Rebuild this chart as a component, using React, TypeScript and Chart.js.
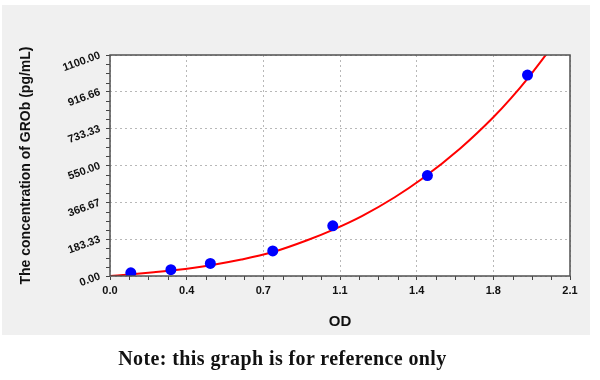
import React, { useEffect, useRef } from "react";
import { Chart, registerables } from "chart.js";

Chart.register(...registerables);

// Standard points (OD, concentration pg/mL)
const standardOD = [0.095, 0.278, 0.458, 0.743, 1.017, 1.449, 1.906];
const standardConc = [15.63, 31.25, 62.5, 125, 250, 500, 1000];

// Fitted curve
const curveOD = [0, 0.1, 0.2, 0.3, 0.46, 0.6, 0.74, 0.9, 1.02, 1.15, 1.3, 1.42, 1.6, 1.75, 1.83, 1.91, 2.0];
const curveConc = [0, 9, 19, 30, 54, 82, 118, 178, 231, 298, 392, 480, 636, 790, 884, 988, 1115];

// Axis ticks
const xTickValues = [0, 0.35, 0.7, 1.05, 1.4, 1.75, 2.1];
const xTickLabels = ["0.0", "0.4", "0.7", "1.1", "1.4", "1.8", "2.1"];
const yTickValues = [0, 183.33, 366.67, 550, 733.33, 916.66, 1100];
const yTickLabels = ["0.00", "183.33", "366.67", "550.00", "733.33", "916.66", "1100.00"];

const xTitle = "OD";
const yTitle = "The concentration of GROb (pg/mL)";
const noteText = "Note: this graph is for reference only";

const panelPlugin = {
  id: "panel",
  beforeDraw(chart: any) {
    const ctx = chart.ctx;
    ctx.save();
    ctx.fillStyle = "#f0f0f0";
    ctx.fillRect(2, 5, 588, 330);
    const a = chart.chartArea;
    ctx.fillStyle = "#ffffff";
    ctx.fillRect(a.left, a.top, a.right - a.left, a.bottom - a.top);
    ctx.restore();
  },
  afterDraw(chart: any) {
    const ctx = chart.ctx;
    const a = chart.chartArea;
    const xs = chart.scales.x;
    const ys = chart.scales.y;
    ctx.save();
    ctx.strokeStyle = "#444444";
    ctx.lineWidth = 1;
    ctx.beginPath();
    for (let i = 0; i < xTickValues.length - 1; i++) {
      const p0 = xs.getPixelForValue(xTickValues[i]);
      const p1 = xs.getPixelForValue(xTickValues[i + 1]);
      for (let k = 1; k < 4; k++) {
        const p = Math.round(p0 + ((p1 - p0) * k) / 4) + 0.5;
        ctx.moveTo(p, a.bottom);
        ctx.lineTo(p, a.bottom + 4);
      }
    }
    for (let i = 0; i < yTickValues.length - 1; i++) {
      const p0 = ys.getPixelForValue(yTickValues[i]);
      const p1 = ys.getPixelForValue(yTickValues[i + 1]);
      for (let k = 1; k < 4; k++) {
        const p = Math.round(p0 + ((p1 - p0) * k) / 4) + 0.5;
        ctx.moveTo(a.left, p);
        ctx.lineTo(a.left - 4, p);
      }
    }
    ctx.stroke();
    ctx.strokeStyle = "#505050";
    ctx.lineWidth = 1.5;
    ctx.strokeRect(a.left, a.top, a.right - a.left, a.bottom - a.top);
    ctx.restore();
  },
};

export default function App() {
  const ref = useRef<HTMLCanvasElement | null>(null);

  useEffect(() => {
    if (!ref.current) return;
    const chart = new Chart(ref.current, {
      type: "scatter",
      data: {
        datasets: [
          {
            label: "Standards",
            data: standardOD.map((x, i) => ({ x, y: standardConc[i] })),
            backgroundColor: "#0000ff",
            borderColor: "#0000ff",
            pointRadius: 5.5,
            pointHoverRadius: 5.5,
            borderWidth: 0,
            showLine: false,
          },
          {
            label: "Curve",
            data: curveOD.map((x, i) => ({ x, y: curveConc[i] })),
            borderColor: "#ff0000",
            backgroundColor: "#ff0000",
            borderWidth: 2,
            pointRadius: 0,
            showLine: true,
            cubicInterpolationMode: "monotone",
          } as any,
        ],
      },
      options: {
        animation: false,
        responsive: false,
        events: [],
        layout: { padding: { left: 0, right: 30, top: 55, bottom: 44 } },
        plugins: { legend: { display: false }, tooltip: { enabled: false } },
        scales: {
          x: {
            type: "linear",
            min: 0,
            max: 2.1,
            afterBuildTicks: (s: any) => {
              s.ticks = xTickValues.map((v) => ({ value: v }));
            },
            afterFit: (s: any) => {
              s.height = 60;
            },
            ticks: {
              autoSkip: false,
              maxRotation: 0,
              minRotation: 0,
              padding: 4,
              color: "#111111",
              font: { family: "Liberation Sans, Arial, sans-serif", size: 11, weight: "bold" },
              callback: (_v: any, i: number) => xTickLabels[i],
            },
            grid: {
              color: "#b8b8b8",
              lineWidth: 1,
              drawTicks: true,
              tickLength: 4,
              tickColor: "#444444",
              tickBorderDash: [],
            },
            border: { display: false, dash: [2, 3] },
            title: {
              display: true,
              text: xTitle,
              color: "#111111",
              font: { family: "Liberation Sans, Arial, sans-serif", size: 15, weight: "bold" },
              padding: { top: 0, bottom: 5 },
            },
          },
          y: {
            type: "linear",
            min: 0,
            max: 1100,
            afterBuildTicks: (s: any) => {
              s.ticks = yTickValues.map((v) => ({ value: v }));
            },
            afterFit: (s: any) => {
              s.width = 110;
            },
            ticks: {
              autoSkip: false,
              minRotation: 20,
              maxRotation: 20,
              padding: 6,
              color: "#111111",
              font: { family: "Liberation Sans, Arial, sans-serif", size: 11, weight: "bold" },
              callback: (_v: any, i: number) => yTickLabels[i],
            },
            grid: {
              color: "#b8b8b8",
              lineWidth: 1,
              drawTicks: true,
              tickLength: 4,
              tickColor: "#444444",
              tickBorderDash: [],
            },
            border: { display: false, dash: [2, 3] },
            title: {
              display: true,
              text: yTitle,
              color: "#111111",
              font: { family: "Liberation Sans, Arial, sans-serif", size: 14, weight: "bold" },
              padding: { top: 18, bottom: 0 },
            },
          },
        },
      },
      plugins: [panelPlugin],
    });
    return () => chart.destroy();
  }, []);

  return (
    <div style={{ position: "absolute", left: 0, top: 0, width: 600, height: 380, background: "#ffffff" }}>
      <canvas ref={ref} width={600} height={380} style={{ position: "absolute", left: 0, top: 0, width: 600, height: 380 }} />
      <div
        style={{
          position: "absolute",
          left: 0,
          top: 348,
          width: 565,
          textAlign: "center",
          fontFamily: "'Liberation Serif', 'DejaVu Serif', serif",
          fontWeight: "bold",
          fontSize: 20,
          letterSpacing: "0.4px",
          lineHeight: "20px",
          color: "#111111",
        }}
      >
        {noteText}
      </div>
    </div>
  );
}
